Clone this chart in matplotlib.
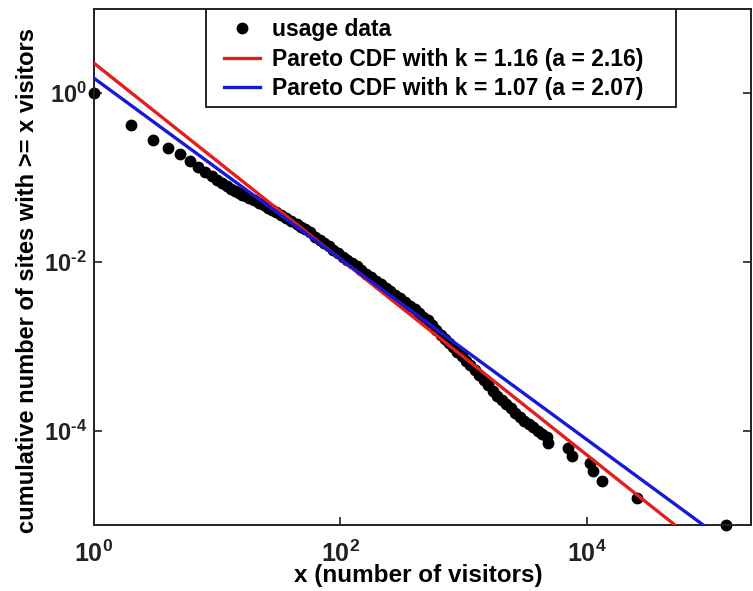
import numpy as np
import matplotlib
matplotlib.use("Agg")
import matplotlib.pyplot as plt
from matplotlib.patches import Rectangle
from matplotlib.ticker import FixedLocator, NullLocator

plt.rcParams["font.family"] = ["Liberation Sans", "DejaVu Sans"]
plt.rcParams["font.weight"] = "bold"
plt.rcParams["mathtext.fontset"] = "custom"
plt.rcParams["mathtext.rm"] = "Liberation Sans:bold"
plt.rcParams["mathtext.bf"] = "Liberation Sans:bold"
plt.rcParams["mathtext.it"] = "Liberation Sans:bold"

# usage data: visitors x and fraction of sites with >= x visitors
usage_x = [1, 2, 3, 4, 5, 6, 7, 8, 9, 10, 11, 12, 13, 14, 15, 16, 17, 18, 20, 22,
           24, 26, 28, 30, 33, 36, 40, 44, 48, 52, 57, 62, 68, 74, 80, 87, 95, 104,
           113, 123, 135, 148, 162, 177, 194, 212, 232, 254, 278, 304, 333, 365,
           400, 435, 470, 510, 550, 600, 650, 700, 760, 820, 890, 960, 1040, 1130,
           1230, 1340, 1450, 1580, 1720, 1870, 2030, 2210, 2400, 2610, 2840, 3090,
           3360, 3650, 3970, 4320, 4700, 4830, 7015, 7550, 10570, 11190, 13240,
           25460, 134300]
usage_y = [1.0, 0.418, 0.278, 0.223, 0.19, 0.157, 0.134, 0.117, 0.1035, 0.0929,
           0.0855, 0.0793, 0.0738, 0.0692, 0.0656, 0.0627, 0.0601, 0.0577, 0.0537,
           0.0502, 0.0469, 0.0439, 0.0412, 0.0389, 0.0360, 0.0334, 0.0305, 0.0281,
           0.0261, 0.0243, 0.0225, 0.0200, 0.0181, 0.0166, 0.0153, 0.0139, 0.0127,
           0.0116, 0.0107, 0.00977, 0.00886, 0.00803, 0.00727, 0.00663, 0.00603,
           0.00549, 0.00499, 0.00452, 0.00412, 0.00375, 0.00338, 0.00304, 0.00275,
           0.00248, 0.00224, 0.00203, 0.00181, 0.00157, 0.00138, 0.00123, 0.00109,
           0.000973, 0.000863, 0.000773, 0.000681, 0.000597, 0.000521, 0.000455,
           0.000400, 0.000346, 0.000300, 0.000261, 0.000233, 0.000208, 0.000186,
           0.000165, 0.000147, 0.000132, 0.000121, 0.000110, 0.000100, 9.18e-5,
           8.38e-5, 7.2e-5, 6.3e-5, 5.06e-5, 4.18e-5, 3.36e-5, 2.56e-5, 1.61e-5,
           7.73e-6]

# Pareto fits: exponent k from the legend, scale read where each line meets x = 1
fit_k = [1.16, 1.07]
fit_scale = [2.26, 1.50]
fit_colors = ["#e41e1e", "#1818d8"]
fit_labels = ["Pareto CDF with k = 1.16 (a = 2.16)",
              "Pareto CDF with k = 1.07 (a = 2.07)"]
fit_x = np.array([1.0, 2.2e5])

x_ticks = [1, 1e2, 1e4]
x_tick_labels = [r"$10^{0}$", r"$10^{2}$", r"$10^{4}$"]
y_ticks = [1e-4, 1e-2, 1]
# short hyphen in the exponent, like the narrow minus of the original labels
y_tick_labels = ["$10^{\u20104}$", "$10^{\u20102}$", r"$10^{0}$"]

fig = plt.figure(figsize=(7.53, 5.91), dpi=100)
ax = fig.add_axes([0.1248, 0.1117, 0.8725, 0.8731])

ax.plot(usage_x, usage_y, "o", color="black", markersize=7.5, label="usage data",
        clip_on=False, zorder=2)
for k, c, col, lab in zip(fit_k, fit_scale, fit_colors, fit_labels):
    ax.plot(fit_x, c * fit_x ** (-k), color=col, linewidth=2.4, label=lab, zorder=3)

ax.set_xscale("log")
ax.set_yscale("log")
ax.set_xlim(1, 2.14e5)
ax.set_ylim(7.7e-6, 9.9)

ax.xaxis.set_major_locator(FixedLocator(x_ticks))
ax.yaxis.set_major_locator(FixedLocator(y_ticks))
ax.xaxis.set_minor_locator(NullLocator())
ax.yaxis.set_minor_locator(NullLocator())
ax.set_xticklabels(x_tick_labels)
ax.set_yticklabels(y_tick_labels)
ax.tick_params(direction="in", length=6, width=1.2, top=True, right=True,
               colors="#222222")
ax.tick_params(axis="x", pad=11, labelsize=18)
ax.tick_params(axis="y", pad=5, labelsize=17)
for s in ax.spines.values():
    s.set_linewidth(1.4)
    s.set_color("#222222")

ax.set_xlabel("x (number of visitors)", fontsize=17.5, fontweight="bold",
              va="top")
ax.xaxis.set_label_coords(0.493, -0.076)
ax.set_ylabel("cumulative number of sites with >= x visitors", fontsize=17,
              fontweight="bold")
ax.yaxis.set_label_coords(-0.084, 0.473)

# legend box drawn on its own so the entries can sit further in from its left edge
ax.add_patch(Rectangle((0.1705, 0.810), 0.7154, 0.19, transform=ax.transAxes,
                       facecolor="white", edgecolor="black", linewidth=1.2,
                       zorder=4))
leg = ax.legend(loc="upper left", bbox_to_anchor=(0.1842, 1.0), borderaxespad=0,
                frameon=False, fontsize=16.5, handlelength=1.6,
                handletextpad=0.5, labelspacing=0.3, borderpad=0.38,
                numpoints=1)
leg.set_zorder(5)

plt.savefig("out.png", dpi=100)
